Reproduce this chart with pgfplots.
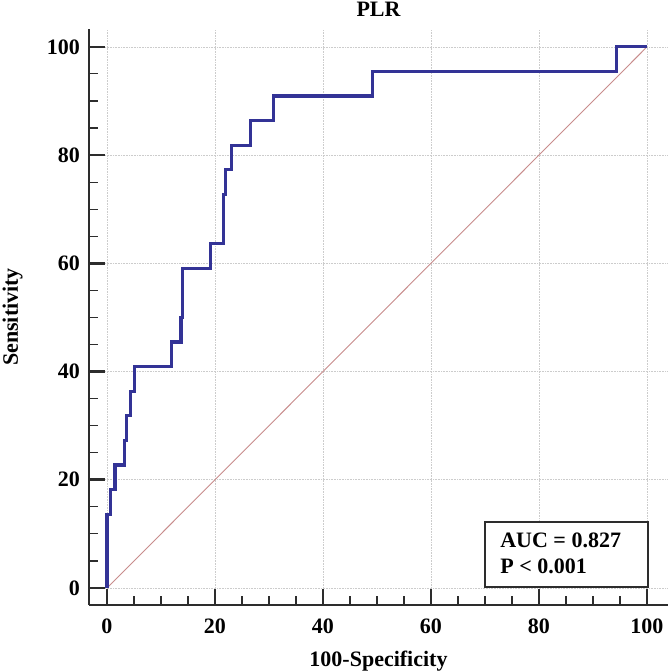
\documentclass[border=0pt]{standalone}
\usepackage{fontspec}
\setmainfont{Liberation Serif}
\usepackage{pgfplots}
\pgfplotsset{compat=1.18}
\definecolor{roc}{RGB}{51,51,150}
\definecolor{diag}{RGB}{200,140,140}
\definecolor{axc}{RGB}{45,45,45}
\begin{document}
\begin{tikzpicture}
\useasboundingbox[fill=white] (0,0) rectangle (669pt,672pt);
\begin{axis}[
  at={(89pt,67pt)}, anchor=south west,
  scale only axis, width=579pt, height=576pt,
  xmin=-3.333, xmax=103.89, ymin=-3.14, ymax=103.3,
  axis lines=left,
  axis line style={-, line width=2.6pt, color=axc},
  xtick={0,20,40,60,80,100}, ytick={0,20,40,60,80,100},
  minor tick num=3,
  tick align=inside,
  major tick length=16pt, minor tick length=9pt,
  major tick style={line width=2.6pt, color=axc},
  minor tick style={line width=1.1pt, color=axc},
  grid=major,
  major grid style={line width=0.6pt, color=gray!40, densely dotted},
  /pgf/number format/assume math mode=true,
  tick label style={font=\fontsize{22}{26}\selectfont\bfseries},
  yticklabel style={inner sep=0pt, xshift=-9pt},
  xticklabel style={inner sep=0pt, yshift=-14pt},
  title={PLR},
  title style={at={(axis description cs:0.5,1)}, anchor=base, yshift=6pt, font=\fontsize{22}{26}\selectfont\bfseries, inner sep=0pt},
  xlabel={100-Specificity},
  xlabel style={at={(axis description cs:0.5,0)}, anchor=base, yshift=-61pt, font=\fontsize{22}{26}\selectfont\bfseries, inner sep=0pt},
  ylabel={Sensitivity},
  ylabel style={at={(axis description cs:0,0.5)}, anchor=base, yshift=71pt, font=\fontsize{22}{26}\selectfont\bfseries, inner sep=0pt},
  clip=false,
]
\addplot[diag, line width=0.9pt] coordinates {(0,0) (100,100)};
\addplot[roc, line width=3.2pt, line join=miter] coordinates {
(0,0) (0,13.64) (0.6,13.64) (0.6,18.18) (1.5,18.18) (1.5,22.73) (3.3,22.73)
(3.3,27.27) (3.6,27.27) (3.6,31.82) (4.3,31.82) (4.3,36.36) (5.1,36.36)
(5.1,40.91) (11.9,40.91) (11.9,45.45) (13.7,45.45) (13.7,50) (13.95,50)
(13.95,59.09) (19.1,59.09) (19.1,63.64) (21.6,63.64) (21.6,72.73) (22.0,72.73)
(22.0,77.27) (23.0,77.27) (23.0,81.82) (26.6,81.82) (26.6,86.36) (30.8,86.36)
(30.8,90.91) (49.1,90.91) (49.1,95.45) (94.3,95.45) (94.3,100) (100,100)};
\draw[line width=2pt, color=axc, fill=white] (axis cs:70,0.25) rectangle (axis cs:100.2,12.2);
\node[anchor=base west, inner sep=0pt, font=\fontsize{22}{26}\selectfont\bfseries] at (axis cs:72.8,7.4) {AUC = 0.827};
\node[anchor=base west, inner sep=0pt, font=\fontsize{22}{26}\selectfont\bfseries] at (axis cs:72.8,2.6) {P < 0.001};
\end{axis}
\end{tikzpicture}
\end{document}
